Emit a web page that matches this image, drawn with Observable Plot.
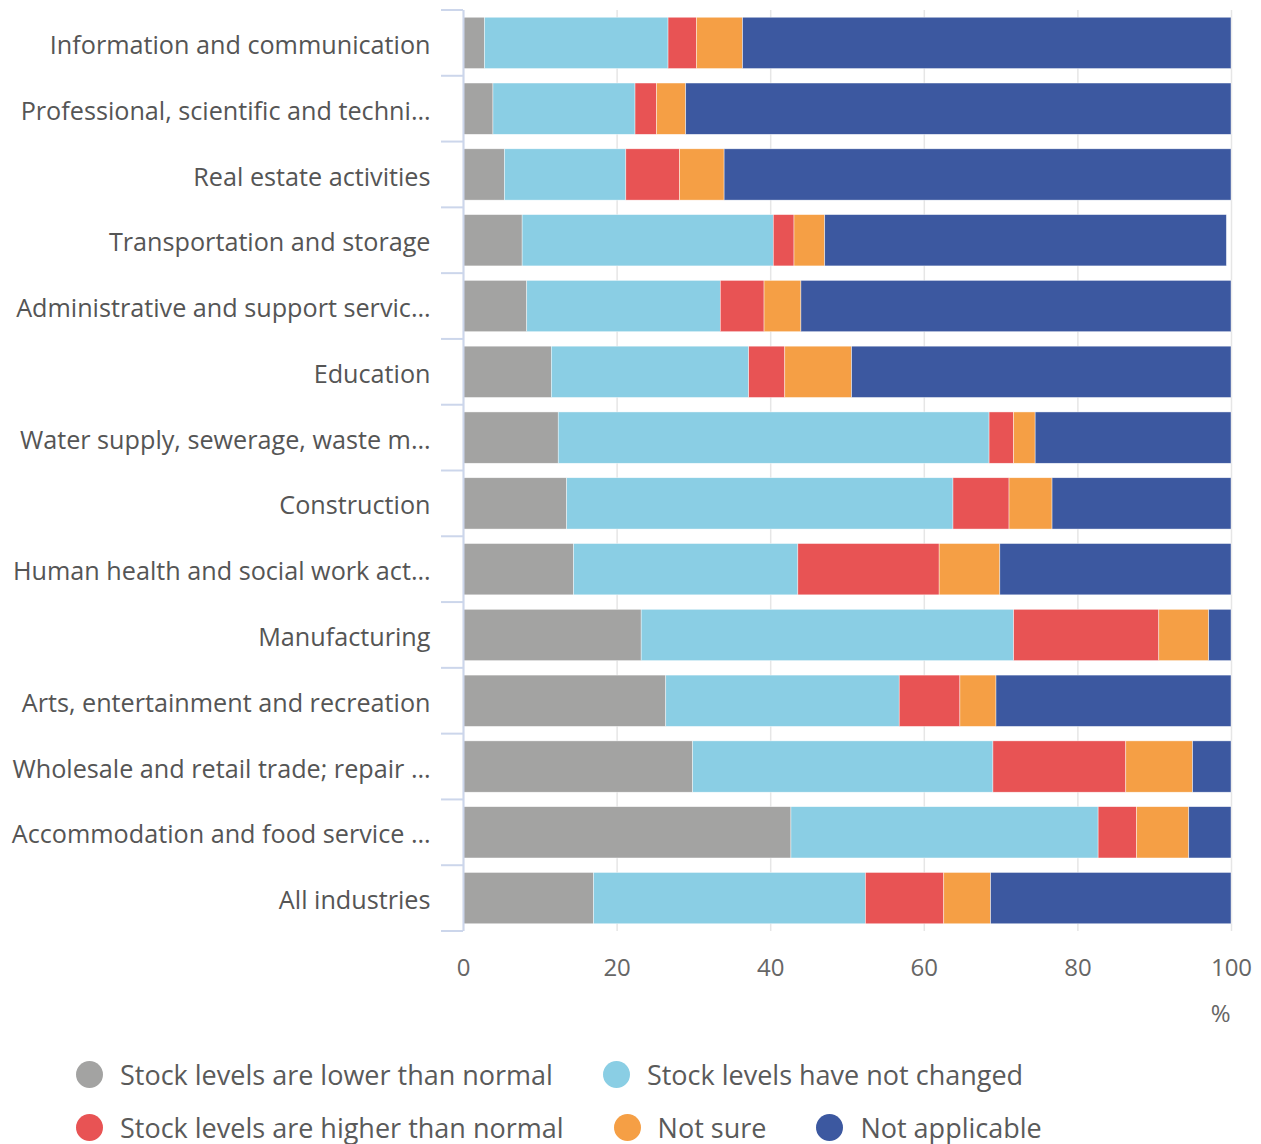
<!DOCTYPE html>
<html><head><meta charset="utf-8">
<script src="https://cdn.jsdelivr.net/npm/d3@7"></script>
<script src="https://cdn.jsdelivr.net/npm/@observablehq/plot@0.6"></script>
<style>
body{margin:0;background:#fff;font-family:"Open Sans",sans-serif;}
#legend{padding-left:76px;margin-top:8px;}
.row{display:flex;align-items:center;height:53px;}
.item{display:flex;align-items:center;margin-right:50px;font-size:27px;color:#5a5a5a;white-space:nowrap;}
.dot{width:27px;height:27px;border-radius:50%;margin-right:17px;flex:none;}
</style></head><body>
<div id="chart"></div>
<div id="legend"></div>
<script>
const categories = [
  "Information and communication",
  "Professional, scientific and techni…",
  "Real estate activities",
  "Transportation and storage",
  "Administrative and support servic…",
  "Education",
  "Water supply, sewerage, waste m…",
  "Construction",
  "Human health and social work act…",
  "Manufacturing",
  "Arts, entertainment and recreation",
  "Wholesale and retail trade; repair …",
  "Accommodation and food service …",
  "All industries"
];
const seriesNames = [
  "Stock levels are lower than normal",
  "Stock levels have not changed",
  "Stock levels are higher than normal",
  "Not sure",
  "Not applicable"
];
const lower =         [2.8, 3.9, 5.4, 7.7, 8.3, 11.5, 12.4, 13.5, 14.4, 23.2, 26.4, 29.9, 42.7, 17.0];
const unchanged =     [23.9, 18.5, 15.8, 32.7, 25.2, 25.7, 56.1, 50.3, 29.2, 48.5, 30.4, 39.1, 40.0, 35.4];
const higher =        [3.7, 2.8, 7.0, 2.7, 5.7, 4.7, 3.2, 7.3, 18.4, 18.9, 7.9, 17.3, 5.0, 10.2];
const notSure =       [6.0, 3.8, 5.8, 4.0, 4.8, 8.7, 2.8, 5.6, 7.9, 6.5, 4.7, 8.7, 6.8, 6.1];
const notApplicable = [63.6, 71.0, 66.0, 52.3, 56.0, 49.4, 25.5, 23.3, 30.1, 2.9, 30.6, 5.0, 5.5, 31.3];
const colors = ["#a3a3a2", "#8acee4", "#e85354", "#f59f45", "#3c58a0"];
const xTicks = [0, 20, 40, 60, 80, 100];
const xLabel = "%";

const seriesValues = [lower, unchanged, higher, notSure, notApplicable];
const data = [];
categories.forEach((c, i) => {
  seriesNames.forEach((s, j) => data.push({category: c, series: s, value: seriesValues[j][i]}));
});

const chart = Plot.plot({
  width: 1261,
  height: 1040,
  marginLeft: 463,
  marginRight: 30,
  marginTop: 10,
  marginBottom: 109,
  style: {fontFamily: "'Open Sans', sans-serif", background: "#fff"},
  x: {domain: [0, 100], ticks: xTicks},
  y: {domain: categories, paddingInner: 0.22, paddingOuter: 0.11, round: false},
  color: {domain: seriesNames, range: colors},
  marks: [
    Plot.gridX(xTicks, {stroke: "#e6e6e6", strokeOpacity: 1, strokeWidth: 1.5}),
    Plot.barX(data, Plot.stackX({
      y: "category", x: "value", fill: "series",
      order: seriesNames,
      stroke: "#ffffff", strokeWidth: 0.6, strokeOpacity: 0.7
    })),
    Plot.ruleX([0], {stroke: "#ccd6eb", strokeWidth: 2}),
    Plot.axisX(xTicks, {
      tickSize: 0, tickPadding: 27, fontSize: 24, color: "#666", label: null
    }),
    Plot.text([xLabel], {
      frameAnchor: "bottom-right", textAnchor: "end", lineAnchor: "middle",
      dy: 83, dx: -1, fontSize: 24, fill: "#666"
    }),
    Plot.axisY({tickSize: 0, tickPadding: 33, fontSize: 25.2, color: "#555", label: null, dy: 2.5})
  ]
});
document.getElementById("chart").appendChild(chart);

// axis tick marks at band boundaries, derived from the band scale
const ys = chart.scale("y");
const half = (ys.step - ys.bandwidth) / 2;
const bounds = categories.map(c => ys.apply(c) - half);
bounds.push(ys.apply(categories[categories.length - 1]) + ys.bandwidth + half);
const xs = chart.scale("x");
const x0 = xs.apply(0);
d3.select(chart).append("g")
  .selectAll("line").data(bounds).join("line")
  .attr("x1", x0 - 22).attr("x2", x0)
  .attr("y1", d => d).attr("y2", d => d)
  .attr("stroke", "#ccd6eb").attr("stroke-width", 2);

// legend
const legend = document.getElementById("legend");
[[0, 1], [2, 3, 4]].forEach(idxs => {
  const row = document.createElement("div");
  row.className = "row";
  idxs.forEach(j => {
    const item = document.createElement("div");
    item.className = "item";
    const dot = document.createElement("span");
    dot.className = "dot";
    dot.style.background = colors[j];
    const t = document.createElement("span");
    t.textContent = seriesNames[j];
    item.appendChild(dot); item.appendChild(t);
    row.appendChild(item);
  });
  legend.appendChild(row);
});
</script>
</body></html>
